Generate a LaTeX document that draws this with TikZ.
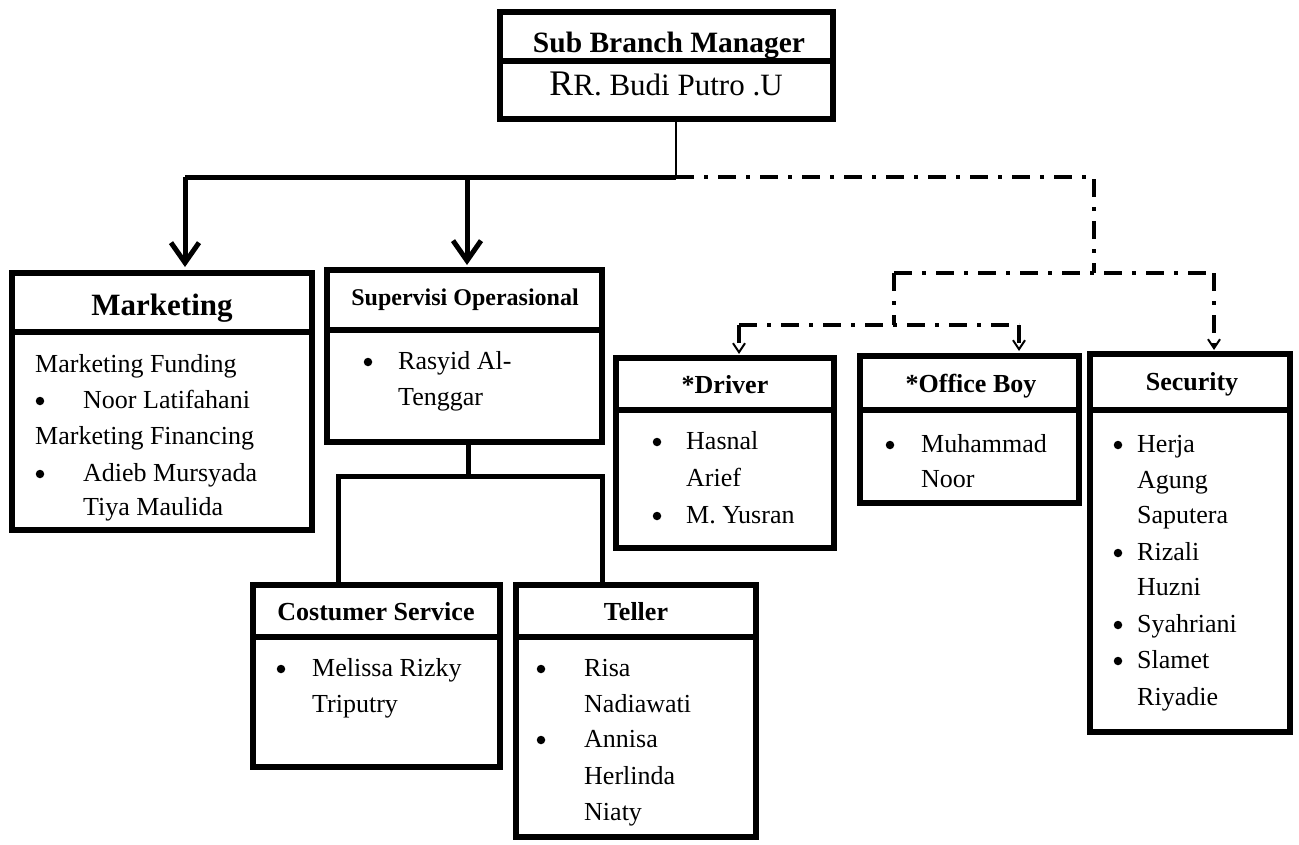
\documentclass[tikz,border=0pt]{standalone}
\usepackage{fontspec}
\setmainfont{Liberation Serif}
\usetikzlibrary{arrows.meta}
\begin{document}
\begin{tikzpicture}[x=1pt,y=-1pt,
  frame/.style={draw, line width=6pt, inner sep=0pt, outer sep=0pt, anchor=north west},
  hdr/.style={font=\fontsize{26}{30}\selectfont\bfseries, anchor=base, inner sep=0pt},
  body/.style={font=\fontsize{26}{36}\selectfont, anchor=base west, inner sep=0pt},
  bul/.style={circle, fill, inner sep=0pt, minimum size=8.5pt, yshift=7pt},
  thicklink/.style={line width=5pt},
  bigarrow/.style={line width=5pt, -{Straight Barb[length=20pt,width=28pt]}},
  dashdot/.style={line width=4.5pt, dash pattern=on 18pt off 10pt on 4pt off 10pt},
  smallarrow/.style={line width=4.5pt, dash pattern=on 18pt off 10pt on 4pt off 10pt,
     -{Straight Barb[length=9pt,width=12pt,line width=2pt]}},
]
\useasboundingbox (0,0) rectangle (1299,844);

% ---------- boxes ----------
\node[frame, minimum width=333pt, minimum height=49pt]  (sbmh) at (500,12) {};
\node[frame, minimum width=333pt, minimum height=58pt]  (sbmb) at (500,61) {};
\node[frame, minimum width=300pt, minimum height=59pt]  (mkth) at (12,273) {};
\node[frame, minimum width=300pt, minimum height=198pt] (mktb) at (12,332) {};
\node[frame, minimum width=275pt, minimum height=60pt]  (suph) at (327,270) {};
\node[frame, minimum width=275pt, minimum height=112pt] (supb) at (327,330) {};
\node[frame, minimum width=218pt, minimum height=52pt]  (drvh) at (616,358) {};
\node[frame, minimum width=218pt, minimum height=138pt] (drvb) at (616,410) {};
\node[frame, minimum width=219pt, minimum height=54pt]  (obh)  at (860,356) {};
\node[frame, minimum width=219pt, minimum height=93pt]  (obb)  at (860,410) {};
\node[frame, minimum width=200pt, minimum height=56pt]  (sech) at (1090,354) {};
\node[frame, minimum width=200pt, minimum height=322pt] (secb) at (1090,410) {};
\node[frame, minimum width=247pt, minimum height=52pt]  (csh)  at (253,585) {};
\node[frame, minimum width=247pt, minimum height=130pt] (csb)  at (253,637) {};
\node[frame, minimum width=240pt, minimum height=52pt]  (telh) at (516,585) {};
\node[frame, minimum width=240pt, minimum height=200pt] (telb) at (516,637) {};

% ---------- headers ----------
\node[hdr, font=\fontsize{29.5}{34}\selectfont\bfseries] (tsbm) at (669,52) {Sub Branch Manager};
\node[anchor=base, inner sep=0pt] (tbudi) at (666,95) {{\fontsize{36}{40}\selectfont R}{\fontsize{31}{36}\selectfont R. Budi Putro .U}};
\node[hdr, font=\fontsize{31}{36}\selectfont\bfseries] (tmkt) at (162,315) {Marketing};
\node[hdr, font=\fontsize{24}{28}\selectfont\bfseries] (tsup) at (465,305) {Supervisi Operasional};
\node[hdr] (tdrv) at (725,393) {*Driver};
\node[hdr] (tob)  at (971,392) {*Office Boy};
\node[hdr] (tsec) at (1192,390) {Security};
\node[hdr] (tcs)  at (376,620) {Costumer Service};
\node[hdr] (ttel) at (636,620) {Teller};

% ---------- Marketing ----------
\node[body] (m1) at (35,372) {Marketing Funding};
\node[bul]  (mb1) at (40,408) {};
\node[body] (m2) at (83,408) {Noor Latifahani};
\node[body] (m3) at (35,444) {Marketing Financing};
\node[bul]  (mb2) at (40,481) {};
\node[body] (m4) at (83,481) {Adieb Mursyada};
\node[body] (m5) at (83,515) {Tiya Maulida};

% ---------- Supervisi ----------
\node[bul]  (sb1) at (368,369) {};
\node[body] (s1) at (398,369) {Rasyid Al-};
\node[body] (s2) at (398,405) {Tenggar};

% ---------- Driver ----------
\node[bul]  (db1) at (657,449) {};
\node[body] (d1) at (686,449) {Hasnal};
\node[body] (d2) at (686,486) {Arief};
\node[bul]  (db2) at (657,523) {};
\node[body] (d3) at (686,523) {M. Yusran};

% ---------- Office Boy ----------
\node[bul]  (ob1) at (890,452) {};
\node[body] (o1) at (921,452) {Muhammad};
\node[body] (o2) at (921,487) {Noor};

% ---------- Security ----------
\node[bul]  (scb1) at (1118,452) {};
\node[body] (sc1) at (1137,452) {Herja};
\node[body] (sc2) at (1137,488) {Agung};
\node[body] (sc3) at (1137,523) {Saputera};
\node[bul]  (scb2) at (1118,560) {};
\node[body] (sc4) at (1137,560) {Rizali};
\node[body] (sc5) at (1137,595) {Huzni};
\node[bul]  (scb3) at (1118,632) {};
\node[body] (sc6) at (1137,632) {Syahriani};
\node[bul]  (scb4) at (1118,668) {};
\node[body] (sc7) at (1137,668) {Slamet};
\node[body] (sc8) at (1137,705) {Riyadie};

% ---------- Costumer Service ----------
\node[bul]  (cb1) at (281,676) {};
\node[body] (c1) at (312,676) {Melissa Rizky};
\node[body] (c2) at (312,712) {Triputry};

% ---------- Teller ----------
\node[bul]  (tb1) at (541,676) {};
\node[body] (te1) at (584,676) {Risa};
\node[body] (te2) at (584,712) {Nadiawati};
\node[bul]  (tb2) at (541,747) {};
\node[body] (te3) at (584,747) {Annisa};
\node[body] (te4) at (584,784) {Herlinda};
\node[body] (te5) at (584,820) {Niaty};

% ---------- connector points ----------
\coordinate (sbmbot) at (676,119);
\coordinate (j0) at (676,177);
\coordinate (jm) at (185,177);
\coordinate (js) at (467,177);
\coordinate (mktin) at (185,267);
\coordinate (supin) at (467,265);
\coordinate (jr) at (1094,177);
\coordinate (jr2) at (1094,273);
\coordinate (ja) at (894,273);
\coordinate (jb) at (1214,273);
\coordinate (secin) at (1214,350);
\coordinate (jc) at (894,325);
\coordinate (jd) at (739,325);
\coordinate (je) at (1019,325);
\coordinate (drvin) at (739,354);
\coordinate (obin) at (1019,351);
\coordinate (supout) at (468,442);
\coordinate (jt) at (468,476);
\coordinate (jt1) at (338,476);
\coordinate (jt2) at (602,476);
\coordinate (csin) at (338,585);
\coordinate (telin) at (602,585);

% ---------- connectors ----------
\draw[line width=1.6pt] (sbmbot) -- (j0);
\draw[thicklink] (j0) -- (jm);
\draw[bigarrow] (jm) -- (mktin);
\draw[bigarrow] (js) -- (supin);
\draw[dashdot] (j0) -- (jr) -- (jr2);
\draw[dashdot] (ja) -- (jb);
\draw[smallarrow] (jb) -- (secin);
\draw[dashdot] (ja) -- (jc);
\draw[dashdot] (jd) -- (je);
\draw[smallarrow] (jd) -- (drvin);
\draw[smallarrow] (je) -- (obin);
\draw[thicklink] (supout) -- (jt);
\draw[thicklink] (csin) -- (jt1) -- (jt2) -- (telin);
\end{tikzpicture}
\end{document}
